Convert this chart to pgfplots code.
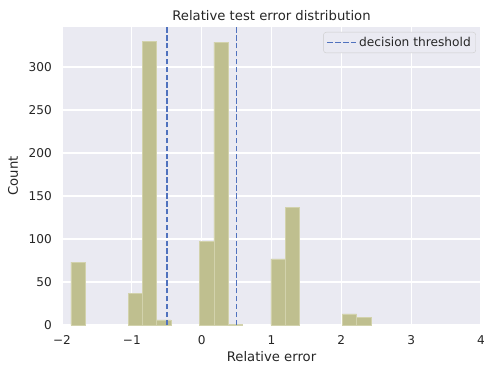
\documentclass[border=0pt]{standalone}
\usepackage{fontspec}
\setmainfont{DejaVu Sans}
\usepackage{pgfplots}
\pgfplotsset{compat=1.18}
\definecolor{bg}{RGB}{234,234,242}
\definecolor{barfill}{RGB}{191,191,143}
\definecolor{baredge}{RGB}{210,210,172}
\definecolor{thr}{RGB}{80,114,190}
\definecolor{txt}{RGB}{38,38,38}
\definecolor{legedge}{RGB}{204,204,204}
\begin{document}
\begin{tikzpicture}
\begin{axis}[
  at={(0,0)}, anchor=south west,
  scale only axis, width=419bp, height=298bp,
  xmin=-2, xmax=4, ymin=0, ymax=346.5,
  axis background/.style={fill=bg},
  axis line style={draw=none},
  tick style={draw=none},
  grid=major, grid style={white, line width=1.1bp},
  xtick={-2,-1,0,1,2,3,4}, xticklabels={−2,−1,0,1,2,3,4},
  ytick={0,50,100,150,200,250,300},
  yticklabels={0,50,100,150,200,250,300},
  xticklabel style={font=\fontsize{12.1bp}{14bp}\selectfont, text=txt, inner sep=0pt, anchor=north, yshift=-10bp},
  yticklabel style={font=\fontsize{12.1bp}{14bp}\selectfont, text=txt, inner sep=0pt, anchor=east, xshift=-10bp},
  title={Relative test error distribution},
  title style={at={(axis description cs:0.5,1)}, anchor=base, yshift=1bp, inner sep=0pt, font=\fontsize{13.2bp}{16bp}\selectfont, text=txt},
  xlabel={Relative error},
  xlabel style={at={(axis description cs:0.5,0)}, anchor=north, yshift=-26bp, inner sep=0pt, font=\fontsize{13.2bp}{16bp}\selectfont, text=txt},
  ylabel={Count},
  ylabel style={at={(axis description cs:-0.1043,0.5)}, anchor=south, inner sep=0pt, font=\fontsize{13.2bp}{16bp}\selectfont, text=txt},
  legend style={at={(axis description cs:1,1)}, anchor=north east, xshift=-5bp, yshift=-5bp, draw=legedge, fill=bg, rounded corners=3bp, font=\fontsize{12.2bp}{14bp}\selectfont, text=txt, inner xsep=3bp, inner ysep=3bp},
  legend cell align=left,
  legend image code/.code={\draw[#1] (0bp,0bp) -- (23bp,0bp); \path (0bp,0bp) -- (29bp,0bp);},
  unbounded coords=jump,
]
\addplot[ybar, bar width=0.2045, bar shift=0pt, fill=barfill, draw=baredge, line width=0.5bp, forget plot] coordinates {
  (-1.769,73) (-0.951,37) (-0.746,330) (-0.542,6)
  (0.072,97) (0.276,329) (0.481,1)
  (1.094,77) (1.299,137)
  (2.117,13) (2.321,9)
};
\addplot[thr, line width=1.8bp, dash pattern=on 5.5bp off 2.4bp] coordinates {(-0.5,0) (-0.5,346.5) (nan,nan) (0.5,0) (0.5,346.5)};
\addlegendentry{decision threshold\hspace{4bp}}
\end{axis}
\pgfresetboundingbox
\path[use as bounding box] (-62bp,-41bp) rectangle (422bp,325bp);
\end{tikzpicture}
\end{document}
